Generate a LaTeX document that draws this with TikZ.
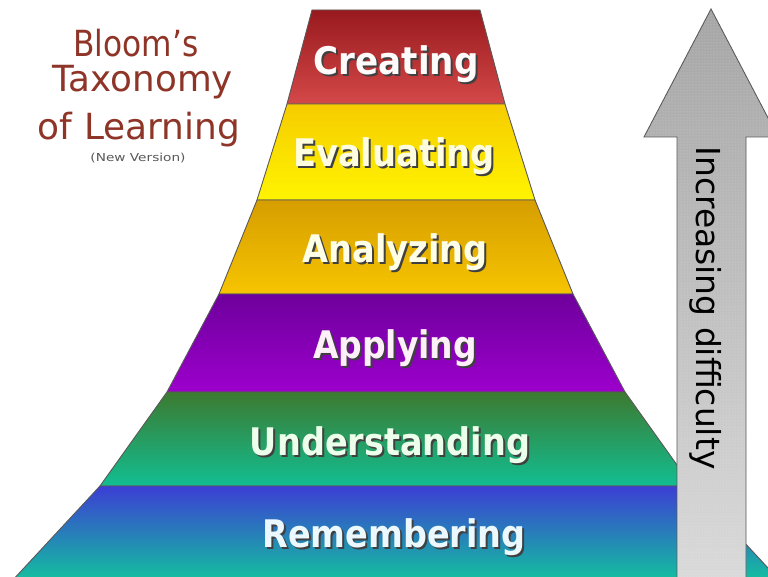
\documentclass[tikz,border=0pt]{standalone}
\usepackage{fontspec}
\setmainfont{DejaVu Sans}
\usepackage{graphicx}
\usetikzlibrary{patterns}
\definecolor{creA}{HTML}{981A1E}
\definecolor{creB}{HTML}{D44848}
\definecolor{evaA}{HTML}{F6CC00}
\definecolor{evaB}{HTML}{FFF400}
\definecolor{anaA}{HTML}{D69E00}
\definecolor{anaB}{HTML}{F7C400}
\definecolor{appA}{HTML}{6E009C}
\definecolor{appB}{HTML}{9C00CC}
\definecolor{undA}{HTML}{3C7A30}
\definecolor{undB}{HTML}{12BE92}
\definecolor{remA}{HTML}{3C3ED4}
\definecolor{remB}{HTML}{12C29E}
\definecolor{titlecol}{HTML}{8E3528}
\newcommand\pyrtext[2]{\resizebox{#1}{\height}{#2}}
% text with a dark drop shadow, set in one box
\newcommand\shadowed[2]{\makebox[0pt][l]{\hspace{2pt}\raisebox{-2pt}{\color{black!75}\pyrtext{#1}{#2}}}\pyrtext{#1}{#2}}
\begin{document}
\begin{tikzpicture}[x=1pt,y=-1pt,
  layerbox/.style={draw=black!65, line width=0.9pt, line join=round},
  lbl/.style={anchor=base, inner sep=0pt, font=\fontsize{38}{40}\selectfont\bfseries},
  ttl/.style={anchor=base, inner sep=0pt, text=titlecol, font=\fontsize{36}{40}\selectfont}]
\useasboundingbox (0,0) rectangle (768,577);
\clip (0,0) rectangle (768,577);
\fill[white] (0,0) rectangle (768,577);

% pyramid layers
\path[layerbox, top color=creA, bottom color=creB] (312,10) -- (480,10) -- (505,104) -- (287,104) -- cycle;
\path[layerbox, top color=evaA, bottom color=evaB] (287,104) -- (505,104) -- (535,200) -- (257,200) -- cycle;
\path[layerbox, top color=anaA, bottom color=anaB] (257,200) -- (535,200) -- (573,294) -- (219,294) -- cycle;
\path[layerbox, top color=appA, bottom color=appB] (219,294) -- (573,294) -- (625,392) -- (167,392) -- cycle;
\path[layerbox, top color=undA, bottom color=undB] (167,392) -- (625,392) -- (692,486) -- (100,486) -- cycle;
\path[layerbox, top color=remA, bottom color=remB] (100,486) -- (692,486) -- (781,582) -- (11,582) -- cycle;

% layer labels
\node[lbl, text=white!94!pink] (cre) at (396,75) {\shadowed{165pt}{Creating}};
\node[lbl, text=yellow!12] (eva) at (394,167) {\shadowed{202pt}{Evaluating}};
\node[lbl, text=yellow!10] (ana) at (395,262) {\shadowed{185pt}{Analyzing}};
\node[lbl, text=magenta!6] (app) at (395,358) {\shadowed{164pt}{Applying}};
\node[lbl, text=green!8] (und) at (390,455) {\shadowed{280pt}{Understanding}};
\node[lbl, text=cyan!8] (rem) at (394,547) {\shadowed{263pt}{Remembering}};

% title
\node[ttl] (t1) at (136,57) {\pyrtext{125pt}{Bloom's}};
\node[ttl] (t2) at (143,92) {\pyrtext{180pt}{Taxonomy}};
\node[ttl] (t3) at (139,140) {\pyrtext{202pt}{of Learning}};
\node[anchor=base, inner sep=0pt, text=black!65, font=\fontsize{11}{12}\selectfont] (t4) at (138,162) {\pyrtext{95pt}{(New Version)}};

% difficulty arrow
\path[draw=black!65, line width=0.9pt, line join=miter, top color=black!35, bottom color=black!14]
  (677,600) -- (677,137) -- (644,137) -- (711,9) -- (778,137) -- (746,137) -- (746,600) -- cycle;
\path[pattern=dots, pattern color=white, fill opacity=0.35]
  (677,600) -- (677,137) -- (644,137) -- (711,9) -- (778,137) -- (746,137) -- (746,600) -- cycle;
\node[anchor=base, inner sep=0pt, rotate=-90, font=\fontsize{33}{36}\selectfont] (diff) at (696,308) {\pyrtext{323pt}{Increasing difficulty}};
\end{tikzpicture}
\end{document}
